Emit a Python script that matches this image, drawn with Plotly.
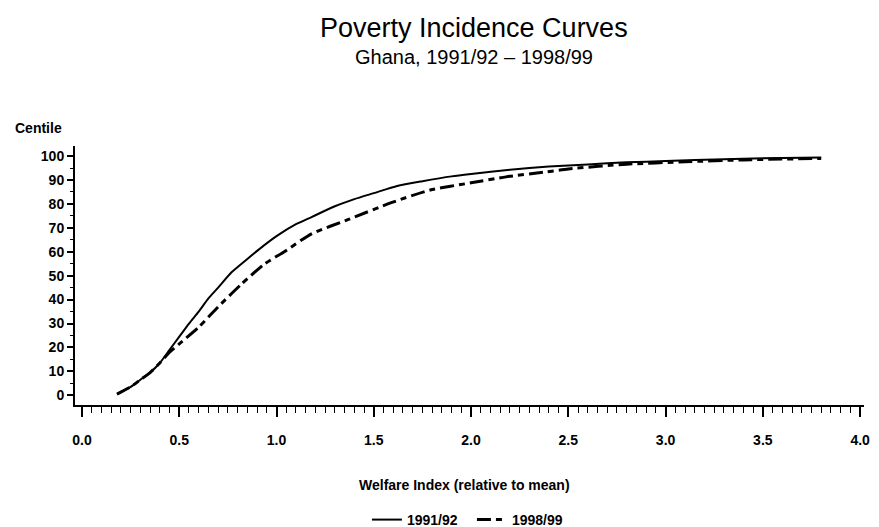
import plotly.graph_objects as go

# Poverty incidence curves: cumulative share of population (centile)
# below each welfare level, welfare expressed relative to the mean.
welfare_9192 = [0.18, 0.25, 0.30, 0.35, 0.40, 0.45, 0.50, 0.55, 0.60, 0.65,
                0.70, 0.77, 0.85, 0.91, 1.00, 1.10, 1.18, 1.30, 1.40, 1.50,
                1.62, 1.75, 1.90, 2.00, 2.20, 2.40, 2.60, 2.80, 3.00, 3.30,
                3.60, 3.80]
centile_9192 = [0.5, 3.5, 6.5, 9.5, 13.5, 19.0, 24.5, 30.0, 35.0, 40.5,
                45.0, 51.5, 57.0, 61.0, 66.5, 71.5, 74.5, 79.0, 82.0, 84.5,
                87.5, 89.5, 91.5, 92.5, 94.3, 95.6, 96.5, 97.4, 97.9, 98.7,
                99.2, 99.4]

welfare_9899 = [0.18, 0.25, 0.30, 0.35, 0.40, 0.45, 0.50, 0.60, 0.70, 0.82,
                0.94, 1.04, 1.18, 1.37, 1.59, 1.79, 2.00, 2.18, 2.39, 2.50,
                2.80, 3.10, 3.40, 3.80]
centile_9899 = [0.5, 3.5, 6.5, 9.5, 13.5, 18.0, 21.5, 28.5, 37.0, 46.5,
                55.0, 60.0, 67.5, 73.5, 80.5, 85.8, 88.8, 91.3, 93.4, 94.6,
                96.6, 97.6, 98.4, 99.0]

x_ticks = [0.0, 0.5, 1.0, 1.5, 2.0, 2.5, 3.0, 3.5, 4.0]
y_ticks = [0, 10, 20, 30, 40, 50, 60, 70, 80, 90, 100]

FONT = "Liberation Sans, Arial, sans-serif"
BOLD = dict(family=FONT, size=14, color="black", weight="bold")

fig = go.Figure()
fig.add_trace(go.Scatter(
    x=welfare_9192, y=centile_9192, mode="lines", name="1991/92",
    line=dict(color="black", width=2, shape="spline", smoothing=0.6),
))
fig.add_trace(go.Scatter(
    x=welfare_9899, y=centile_9899, mode="lines", name="1998/99",
    line=dict(color="black", width=3, dash="14px,5px,6px,5px",
              shape="spline", smoothing=0.6),
))

fig.update_layout(
    width=879, height=527,
    margin=dict(l=75, r=9, t=146, b=122),
    paper_bgcolor="white", plot_bgcolor="white",
    showlegend=True,
    legend=dict(orientation="h", x=0.37, xanchor="left",
                yref="container", y=0.0133, yanchor="middle",
                font=BOLD, bgcolor="rgba(0,0,0,0)",
                itemwidth=30, entrywidth=60),
    annotations=[
        dict(text="Poverty Incidence Curves", xref="paper", yref="paper",
             x=0.5057, y=1.456, xanchor="center", yanchor="middle",
             showarrow=False, font=dict(family=FONT, size=27, color="black")),
        dict(text="Ghana, 1991/92 – 1998/99", xref="paper", yref="paper",
             x=0.5057, y=1.344, xanchor="center", yanchor="middle",
             showarrow=False, font=dict(family=FONT, size=20, color="black")),
        dict(text="Centile", xref="paper", yref="paper",
             x=-0.078, y=1.07, xanchor="left", yanchor="middle",
             showarrow=False, font=BOLD),
        dict(text="Welfare Index (relative to mean)", xref="paper", yref="paper",
             x=0.494, y=-0.31, xanchor="center", yanchor="middle",
             showarrow=False, font=BOLD),
    ],
)

fig.update_xaxes(
    range=[-0.036, 4.02], showgrid=False, zeroline=False,
    showline=True, linecolor="black", linewidth=2,
    tickmode="array", tickvals=x_ticks,
    ticktext=[f"{v:.1f}" for v in x_ticks],
    ticks="outside", ticklen=10, tickwidth=1.5, tickcolor="black",
    ticklabelstandoff=11, tickfont=BOLD,
    minor=dict(ticks="outside", ticklen=6, tickwidth=1.2, tickcolor="black",
               dtick=0.05, tick0=0, showgrid=False),
)
fig.update_yaxes(
    range=[-4.06, 104.2], showgrid=False, zeroline=False,
    showline=True, linecolor="black", linewidth=2,
    tickmode="array", tickvals=y_ticks,
    ticks="outside", ticklen=6, tickwidth=1.5, tickcolor="black",
    tickfont=BOLD,
    minor=dict(ticks="outside", ticklen=3, tickwidth=1.2, tickcolor="black",
               dtick=5, tick0=0, showgrid=False),
)

fig.write_html("out.html")
